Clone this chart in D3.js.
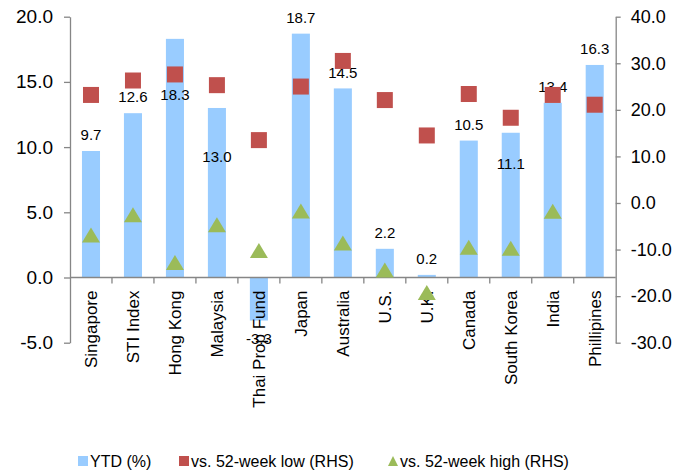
<!DOCTYPE html>
<html>
<head>
<meta charset="utf-8">
<script src="https://cdn.jsdelivr.net/npm/d3@7"></script>
<style>
  html, body { margin: 0; padding: 0; background: #fff; }
  svg { display: block; font-family: "Liberation Sans", Arial, sans-serif; }
</style>
</head>
<body>
<svg id="chart" width="687" height="476"></svg>
<script>
// Market performance: YTD return (left axis) against distance from 52-week low/high (right axis)
const categories = ["Singapore", "STI Index", "Hong Kong", "Malaysia", "Thai Prop Fund", "Japan",
  "Australia", "U.S.", "U.K.", "Canada", "South Korea", "India", "Phillipines"];
const ytd = [9.7, 12.6, 18.3, 13.0, -3.3, 18.7, 14.5, 2.2, 0.2, 10.5, 11.1, 13.4, 16.3];
const vsLow = [23.2, 26.3, 27.6, 25.3, 13.5, 25.0, 30.5, 22.1, 14.5, 23.4, 18.3, 23.2, 21.1];
const vsHigh = [-6.9, -2.5, -12.8, -4.7, -10.2, -1.7, -8.6, -14.4, -19.2, -9.5, -9.7, -1.8, null];
const leftTicks = [-5, 0, 5, 10, 15, 20];
const rightTicks = [-30, -20, -10, 0, 10, 20, 30, 40];
const legendLabels = ["YTD (%)", "vs. 52-week low (RHS)", "vs. 52-week high (RHS)"];

// Hand-placed data labels: extra downward shift (px) for labels moved off the bar top
const labelNudge = [0, 0, 72, 65, 0, 0, 0, 0, 0, 0, 47, 0, 0];

const colors = { bar: "#99ccff", low: "#c0504d", high: "#9bbb59", axis: "#868686", text: "#000" };

const plot = { left: 70, right: 615.7, top: 16.7, bottom: 342.7 };
const svg = d3.select("#chart");

const x = d3.scaleBand().domain(categories).range([plot.left, plot.right])
  .paddingInner(0.57).paddingOuter(0.285);
const yL = d3.scaleLinear().domain([-5, 20]).range([plot.bottom, plot.top]);
const yR = d3.scaleLinear().domain([-30, 40]).range([plot.bottom, plot.top]);
const fmt = d => d.toFixed(1);
const cx = c => x(c) + x.bandwidth() / 2;

// Bars
svg.append("g").selectAll("rect").data(categories).join("rect")
  .attr("x", c => x(c))
  .attr("width", x.bandwidth())
  .attr("y", (c, i) => yL(Math.max(0, ytd[i])))
  .attr("height", (c, i) => Math.abs(yL(ytd[i]) - yL(0)))
  .attr("fill", colors.bar);

// Left axis
const gL = svg.append("g").attr("transform", `translate(${plot.left},0)`)
  .call(d3.axisLeft(yL).tickValues(leftTicks).tickFormat(fmt).tickSize(6).tickSizeOuter(0).tickPadding(11));
// Right axis
const gR = svg.append("g").attr("transform", `translate(${plot.right},0)`)
  .call(d3.axisRight(yR).tickValues(rightTicks).tickFormat(fmt).tickSize(5).tickSizeOuter(0).tickPadding(10));
[gL, gR].forEach(g => {
  g.selectAll("path, line").attr("stroke", colors.axis).attr("stroke-width", 1.3);
  g.selectAll("text").attr("fill", colors.text)
    .attr("font-family", "Liberation Sans, Arial, sans-serif");
});
gL.selectAll("text").attr("font-size", 19);
gR.selectAll("text").attr("font-size", 18);

// Category axis at zero with ticks between categories
const y0 = yL(0);
const gX = svg.append("g");
gX.append("line").attr("x1", plot.left).attr("x2", plot.right).attr("y1", y0).attr("y2", y0)
  .attr("stroke", colors.axis).attr("stroke-width", 1.3);
gX.selectAll("line.tick").data(d3.range(1, categories.length)).join("line")
  .attr("class", "tick")
  .attr("x1", i => plot.left + i * x.step()).attr("x2", i => plot.left + i * x.step())
  .attr("y1", y0).attr("y2", y0 + 6)
  .attr("stroke", colors.axis).attr("stroke-width", 1.3);
gX.selectAll("text").data(categories).join("text")
  .attr("transform", c => `translate(${cx(c)},${y0 + 13}) rotate(-90)`)
  .attr("text-anchor", "end").attr("dy", "0.35em")
  .attr("font-size", 17).attr("fill", colors.text)
  .text(c => c);

// Data labels for YTD
svg.append("g").selectAll("text").data(categories).join("text")
  .attr("x", c => cx(c))
  .attr("y", (c, i) => ytd[i] >= 0 ? yL(ytd[i]) - 16 + labelNudge[i] : yL(ytd[i]) + 18 + labelNudge[i])
  .attr("dy", "0.35em").attr("text-anchor", "middle")
  .attr("font-size", 15).attr("fill", colors.text)
  .text((c, i) => fmt(ytd[i]));

// vs. 52-week low markers (squares)
const sq = 16;
svg.append("g").selectAll("rect").data(categories.filter((c, i) => vsLow[i] != null)).join("rect")
  .attr("x", c => cx(c) - sq / 2)
  .attr("y", c => yR(vsLow[categories.indexOf(c)]) - sq / 2)
  .attr("width", sq).attr("height", sq)
  .attr("fill", colors.low);

// vs. 52-week high markers (triangles)
const triW = 18, triH = 15;
const triPath = `M0,${-triH / 2}L${triW / 2},${triH / 2}L${-triW / 2},${triH / 2}Z`;
svg.append("g").selectAll("path").data(categories.filter((c, i) => vsHigh[i] != null)).join("path")
  .attr("transform", c => `translate(${cx(c)},${yR(vsHigh[categories.indexOf(c)])})`)
  .attr("d", triPath)
  .attr("fill", colors.high);

// Legend
const legendY = 461;
const legendItems = [
  { label: legendLabels[0], x: 78, shape: "rect", color: colors.bar },
  { label: legendLabels[1], x: 179, shape: "rect", color: colors.low },
  { label: legendLabels[2], x: 388, shape: "tri", color: colors.high }
];
const lg = svg.append("g").selectAll("g").data(legendItems).join("g")
  .attr("transform", d => `translate(${d.x},${legendY})`);
lg.filter(d => d.shape === "rect").append("rect")
  .attr("x", 0).attr("y", -5).attr("width", 10).attr("height", 10).attr("fill", d => d.color);
lg.filter(d => d.shape === "tri").append("path")
  .attr("d", "M5,-5L10,5L0,5Z").attr("fill", d => d.color);
lg.append("text").attr("x", 12).attr("dy", "0.35em")
  .attr("font-size", 16).attr("fill", colors.text)
  .text(d => d.label);
</script>
</body>
</html>
